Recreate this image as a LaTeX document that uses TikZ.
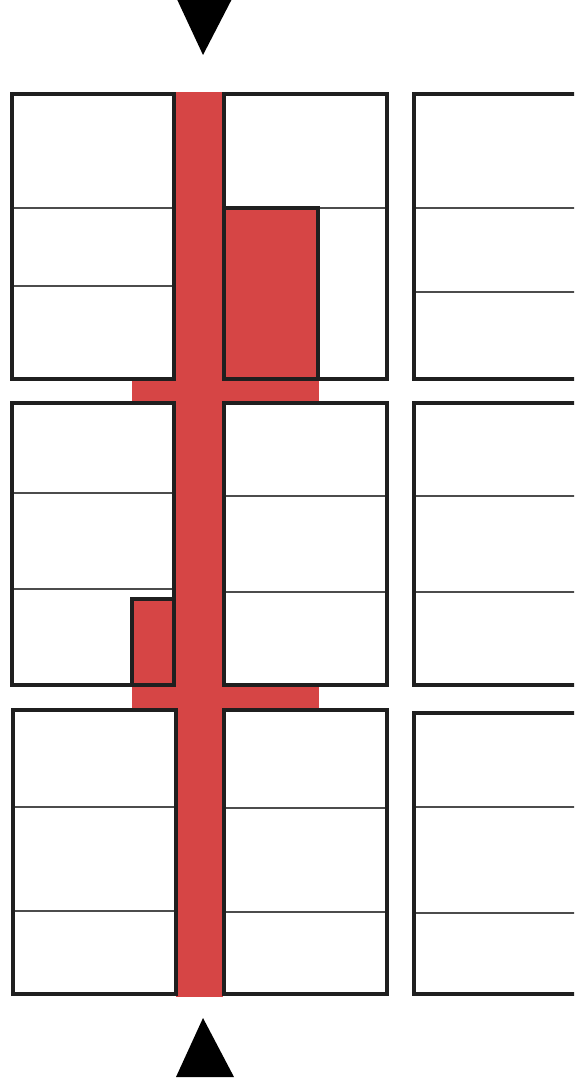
\documentclass[tikz,border=0pt]{standalone}
\begin{document}
\begin{tikzpicture}[x=0.1mm,y=-0.1mm,
  wall/.style={draw=black!88,line width=0.4mm},
  divider/.style={draw=black!70,line width=0.13mm},
  route/.style={fill=routered},
  marker/.style={fill=black}]
\definecolor{routered}{RGB}{214,69,69}
\useasboundingbox (0,0) rectangle (574,1088);
\clip (0,0) rectangle (574,1088);
% red route
\fill[route] (176,92) rectangle (223,997);
\fill[route] (132,379) rectangle (319,403);
\fill[route] (132,686) rectangle (319,710);
\fill[route] (132,599) rectangle (175,686);
\fill[route] (224,208) rectangle (318,379);
% dividers row 1
\draw[divider] (12,208) -- (174,208);
\draw[divider] (12,286) -- (174,286);
\draw[divider] (318,208) -- (387,208);
\draw[divider] (414,208) -- (590,208);
\draw[divider] (414,292) -- (590,292);
% dividers row 2
\draw[divider] (12,493) -- (174,493);
\draw[divider] (12,589) -- (174,589);
\draw[divider] (224,496) -- (387,496);
\draw[divider] (224,592) -- (387,592);
\draw[divider] (414,496) -- (590,496);
\draw[divider] (414,592) -- (590,592);
% dividers row 3
\draw[divider] (13,807) -- (176,807);
\draw[divider] (13,911) -- (176,911);
\draw[divider] (224,808) -- (387,808);
\draw[divider] (224,912) -- (387,912);
\draw[divider] (414,807) -- (590,807);
\draw[divider] (414,913) -- (590,913);
% boxes row 1
\draw[wall] (12,94) rectangle (174,379);
\draw[wall] (224,94) rectangle (387,379);
\draw[wall] (414,94) rectangle (590,379);
\draw[wall] (224,208) -- (318,208) -- (318,379);
% boxes row 2
\draw[wall] (12,403) rectangle (174,685);
\draw[wall] (224,403) rectangle (387,685);
\draw[wall] (414,403) rectangle (590,685);
\draw[wall] (174,599) -- (132,599) -- (132,685);
% boxes row 3
\draw[wall] (13,710) rectangle (176,994);
\draw[wall] (224,710) rectangle (387,994);
\draw[wall] (414,713) rectangle (590,994);
% arrows
\fill[marker] (175,-5) -- (234,-5) -- (203,55) -- cycle;
\fill[marker] (203,1018) -- (234,1077) -- (176,1077) -- cycle;
\end{tikzpicture}
\end{document}
